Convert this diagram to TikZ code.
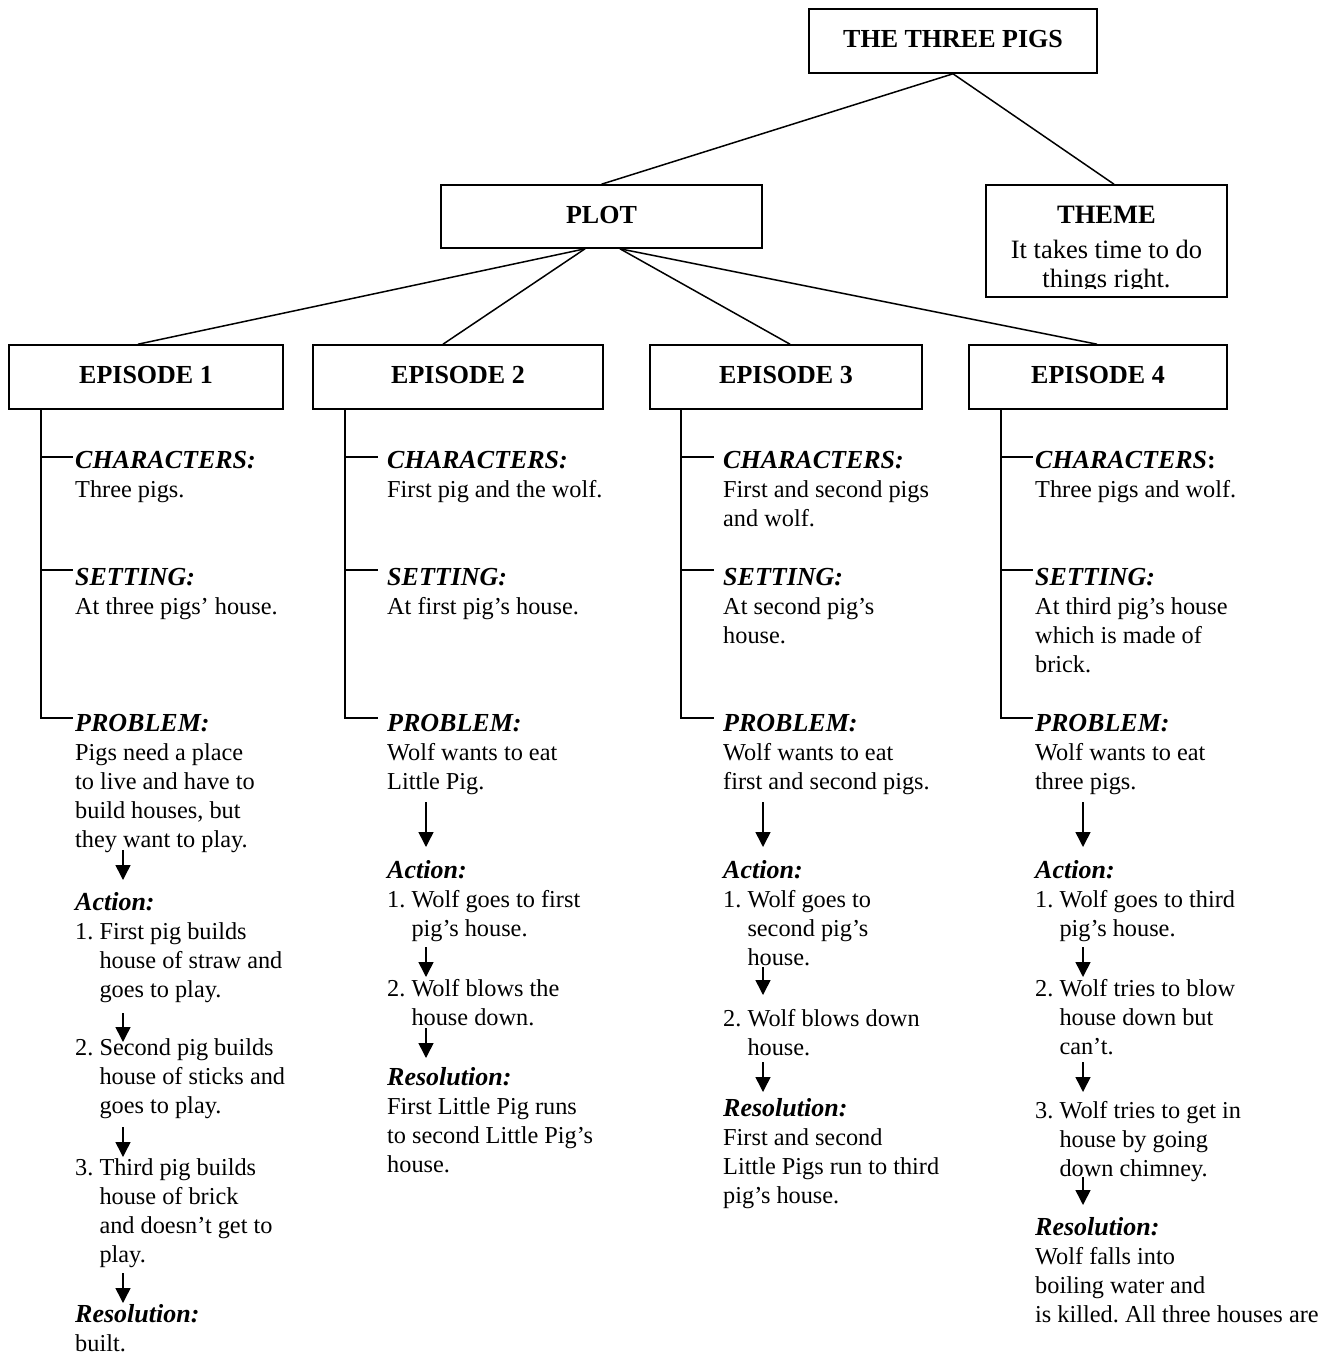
\documentclass[tikz,border=0pt]{standalone}
\usepackage{fontspec}
\setmainfont{Liberation Serif}
\usetikzlibrary{arrows.meta}
\frenchspacing

% a left-aligned stack of lines, separated by \nl, with its baseline on the first line
\newcommand\linestack[1]{\vtop{\baselineskip=29pt\lineskiplimit=-20pt\lineskip=0pt\let\nl\cr\halign{##\hfil\cr#1\crcr}}}
\newcommand\headword[1]{{\fontsize{26}{29}\selectfont\bfseries\itshape #1}}
\newcommand\contind{\hskip24.3pt}
% a block of text whose first baseline starts at (x,y)
\newcommand\putblock[4]{\node[textblock] (#1) at (#2,#3) {\linestack{#4}};}
% a short downward arrow between two named points
\newcommand\stepdown[4]{\coordinate (#1-s) at (#2,#3); \coordinate (#1-e) at (#2,#4); \draw[flowarrow] (#1-s) -- (#1-e);}

\begin{document}
\begin{tikzpicture}[x=1pt,y=-1pt,
  box/.style={draw, line width=1.6pt, inner sep=0pt, font=\fontsize{26}{29}\selectfont\bfseries},
  link/.style={line width=1.5pt},
  flowarrow/.style={line width=1.5pt, -{Triangle[length=15pt,width=15pt]}},
  textblock/.style={anchor=base west, inner sep=0pt, font=\fontsize{24.3}{29}\selectfont\frenchspacing}]
\useasboundingbox (0,0) rectangle (1334,1355);

% ---- boxes ----
\node[box, minimum width=288pt, minimum height=64pt] (root) at (953,41) {\raisebox{4.5pt}{THE THREE PIGS}};
\node[box, minimum width=321pt, minimum height=63pt] (plot) at (601.5,216.5) {\raisebox{2.5pt}{PLOT}};
\node[box, minimum width=241pt, minimum height=112pt] (theme) at (1106.5,241) {};
\node[box, minimum width=274pt, minimum height=64pt] (e1) at (146,377) {\raisebox{3.5pt}{EPISODE 1}};
\node[box, minimum width=290pt, minimum height=64pt] (e2) at (458,377) {\raisebox{3.5pt}{EPISODE 2}};
\node[box, minimum width=272pt, minimum height=64pt] (e3) at (786,377) {\raisebox{3.5pt}{EPISODE 3}};
\node[box, minimum width=258pt, minimum height=64pt] (e4) at (1098,377) {\raisebox{3.5pt}{EPISODE 4}};

% theme text (last line cut off by the box)
\node[anchor=base, inner sep=0pt, font=\fontsize{26.5}{29}\selectfont\bfseries] (themehead) at (1106.5,223) {THEME};
\begin{scope}
  \clip (988,190) rectangle (1225,288);
  \node[anchor=base, inner sep=0pt, font=\fontsize{26.5}{29}\selectfont] (themeone) at (1106.5,258) {It takes time to do};
  \node[anchor=base, inner sep=0pt, font=\fontsize{26.5}{29}\selectfont] (themetwo) at (1106.5,287) {things right.};
\end{scope}

% ---- tree connectors ----
\draw[link] (root.south) -- (plot.north);
\draw[link] (root.south) -- ([xshift=7.5pt]theme.north);
\draw[link] ([xshift=-16.5pt]plot.south) -- ([xshift=-8pt]e1.north);
\draw[link] ([xshift=-16.5pt]plot.south) -- ([xshift=-15pt]e2.north);
\draw[link] ([xshift=18.5pt]plot.south) -- ([xshift=4pt]e3.north);
\draw[link] ([xshift=18.5pt]plot.south) -- ([xshift=-1pt]e4.north);

% ---- stems with ticks under each episode ----
\coordinate (s1) at ([xshift=33pt]e1.south west);
\coordinate (s2) at ([xshift=33pt]e2.south west);
\coordinate (s3) at ([xshift=32pt]e3.south west);
\coordinate (s4) at ([xshift=33pt]e4.south west);
\foreach \s/\tx in {1/73, 2/378, 3/714, 4/1033} {
  \coordinate (k\s c) at (\tx,457);
  \coordinate (k\s s) at (\tx,570);
  \coordinate (k\s p) at (\tx,718);
  \draw[link] (s\s) |- (k\s p);
  \draw[link] (s\s |- k\s c) -- (k\s c);
  \draw[link] (s\s |- k\s s) -- (k\s s);
}

% ---- episode 1 ----
\putblock{e1c}{75}{468}{\headword{CHARACTERS:}\nl Three pigs.}
\putblock{e1s}{75}{585}{\headword{SETTING:}\nl At three pigs’ house.}
\putblock{e1p}{75}{731}{\headword{PROBLEM:}\nl Pigs need a place\nl to live and have to\nl build houses, but\nl they want to play.}
\putblock{e1a}{75}{910}{\headword{Action:}\nl 1. First pig builds\nl\contind house of straw and\nl\contind goes to play.}
\putblock{e1b}{75}{1055}{2. Second pig builds\nl\contind house of sticks and\nl\contind goes to play.}
\putblock{e1d}{75}{1175}{3. Third pig builds\nl\contind house of brick\nl\contind and doesn’t get to\nl\contind play.}
\putblock{e1r}{75}{1322}{\headword{Resolution:}\nl built.}
\stepdown{f11}{123}{850}{880}
\stepdown{f12}{123}{1013}{1042}
\stepdown{f13}{123}{1127}{1157}
\stepdown{f14}{123}{1273}{1303}

% ---- episode 2 ----
\putblock{e2c}{387}{468}{\headword{CHARACTERS:}\nl First pig and the wolf.}
\putblock{e2s}{387}{585}{\headword{SETTING:}\nl At first pig’s house.}
\putblock{e2p}{387}{731}{\headword{PROBLEM:}\nl Wolf wants to eat\nl Little Pig.}
\putblock{e2a}{387}{878}{\headword{Action:}\nl 1. Wolf goes to first\nl\contind pig’s house.}
\putblock{e2b}{387}{996}{2. Wolf blows the\nl\contind house down.}
\putblock{e2r}{387}{1085}{\headword{Resolution:}\nl First Little Pig runs\nl to second Little Pig’s\nl house.}
\stepdown{f21}{426}{802}{847}
\stepdown{f22}{426}{947}{977}
\stepdown{f23}{426}{1028}{1058}

% ---- episode 3 ----
\putblock{e3c}{723}{468}{\headword{CHARACTERS:}\nl First and second pigs\nl and wolf.}
\putblock{e3s}{723}{585}{\headword{SETTING:}\nl At second pig’s\nl house.}
\putblock{e3p}{723}{731}{\headword{PROBLEM:}\nl Wolf wants to eat\nl first and second pigs.}
\putblock{e3a}{723}{878}{\headword{Action:}\nl 1. Wolf goes to\nl\contind second pig’s\nl\contind house.}
\putblock{e3b}{723}{1026}{2. Wolf blows down\nl\contind house.}
\putblock{e3r}{723}{1116}{\headword{Resolution:}\nl First and second\nl Little Pigs run to third\nl pig’s house.}
\stepdown{f31}{763}{802}{847}
\stepdown{f32}{763}{967}{995}
\stepdown{f33}{763}{1062}{1092}

% ---- episode 4 ----
\putblock{e4c}{1035}{468}{{\fontsize{26}{29}\selectfont\bfseries{\itshape CHARACTERS}:}\nl Three pigs and wolf.}
\putblock{e4s}{1035}{585}{\headword{SETTING:}\nl At third pig’s house\nl which is made of\nl brick.}
\putblock{e4p}{1035}{731}{\headword{PROBLEM:}\nl Wolf wants to eat\nl three pigs.}
\putblock{e4a}{1035}{878}{\headword{Action:}\nl 1. Wolf goes to third\nl\contind pig’s house.}
\putblock{e4b}{1035}{996}{2. Wolf tries to blow\nl\contind house down but\nl\contind can’t.}
\putblock{e4d}{1035}{1118}{3. Wolf tries to get in\nl\contind house by going\nl\contind down chimney.}
\putblock{e4r}{1035}{1235}{\headword{Resolution:}\nl Wolf falls into\nl boiling water and\nl is killed. All three houses are}
\stepdown{f41}{1083}{802}{847}
\stepdown{f42}{1083}{947}{977}
\stepdown{f43}{1083}{1062}{1092}
\stepdown{f44}{1083}{1177}{1205}
\end{tikzpicture}
\end{document}
